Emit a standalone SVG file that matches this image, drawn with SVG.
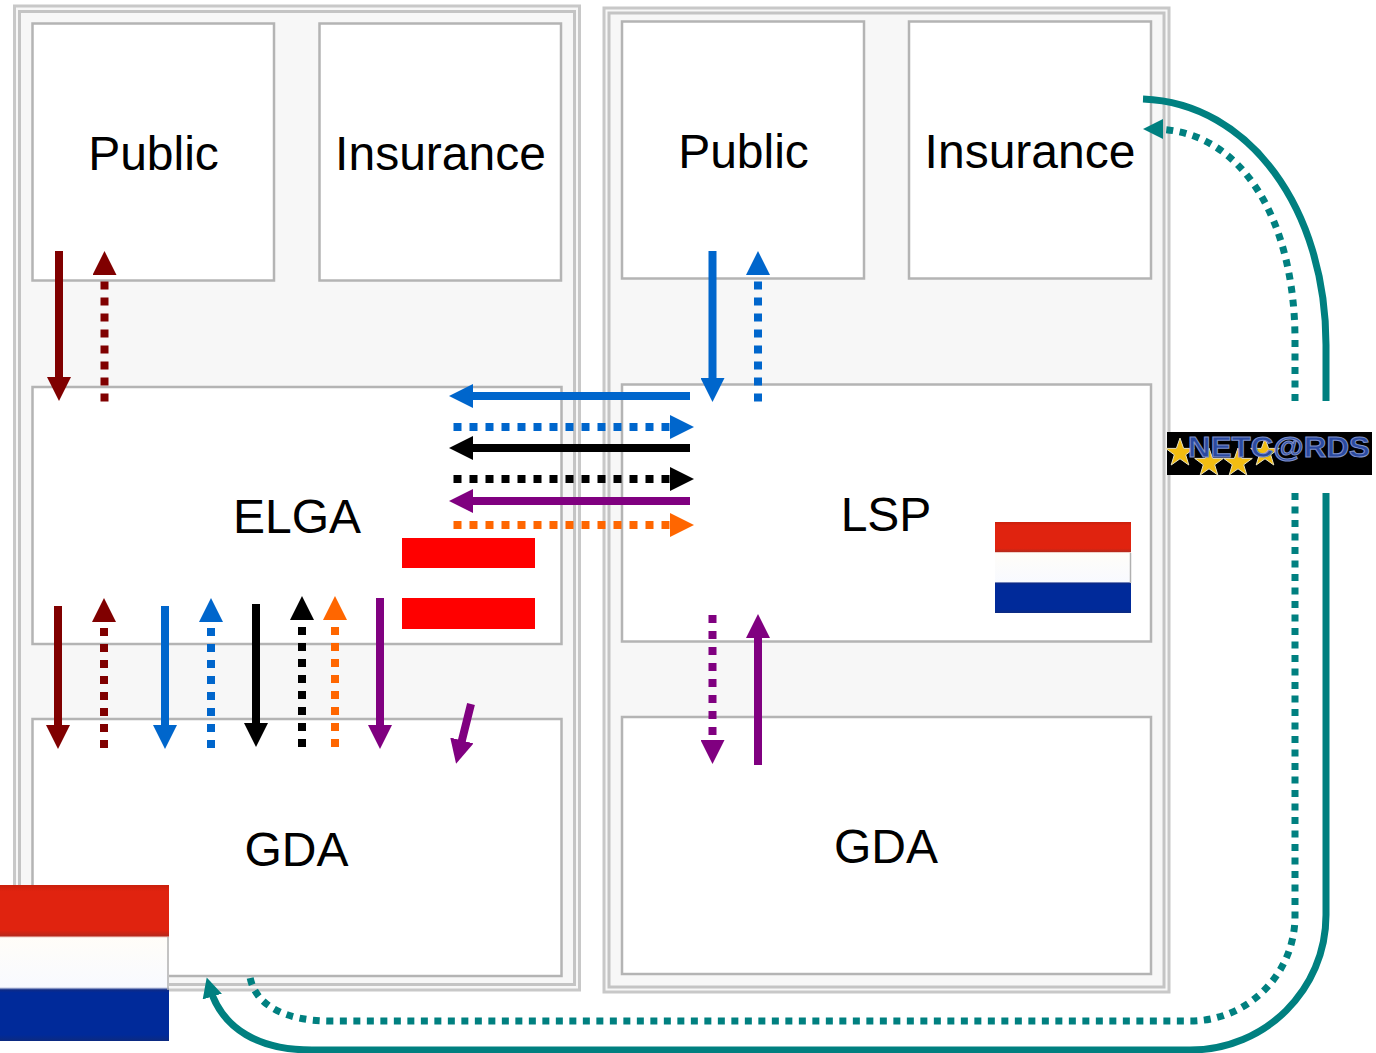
<svg xmlns="http://www.w3.org/2000/svg" width="1376" height="1053" viewBox="0 0 1376 1053">
<style>
.outer{fill:#f7f7f7;stroke:#c8c8c8;stroke-width:3}
.inner{fill:#f7f7f7;stroke:#c4c4c4;stroke-width:3}
.node{fill:#fff;stroke:#b4b4b4;stroke-width:2.5}
.lbl{font-family:"Liberation Sans",Arial,sans-serif;font-size:48px;fill:#000;text-anchor:middle}
.c{fill:none;stroke-width:8}
.d{stroke-dasharray:8 8}
.maroon{stroke:#800000}.blue{stroke:#0066cc}.black{stroke:#000}.purple{stroke:#800080}.orange{stroke:#ff6600}
.teal{stroke:#008080;stroke-width:7;fill:none}
.td{stroke-dasharray:7 6.5}
.mm{marker-end:url(#am)}.mb{marker-end:url(#ab)}.mk{marker-end:url(#ak)}.mp{marker-end:url(#ap)}.mo{marker-end:url(#ao)}.mt{marker-end:url(#at)}
.star{fill:#f2bd12;stroke:#e8e2c0;stroke-width:1}
.edge{stroke:#b0b0b0;stroke-width:1.5}
</style>
<defs>
<marker id="am" viewBox="0 0 24 24" refX="14" refY="12" markerWidth="24" markerHeight="24" markerUnits="userSpaceOnUse" orient="auto"><path d="M0,0L24,12L0,24z" fill="#800000"/></marker>
<marker id="ab" viewBox="0 0 24 24" refX="14" refY="12" markerWidth="24" markerHeight="24" markerUnits="userSpaceOnUse" orient="auto"><path d="M0,0L24,12L0,24z" fill="#0066cc"/></marker>
<marker id="ak" viewBox="0 0 24 24" refX="14" refY="12" markerWidth="24" markerHeight="24" markerUnits="userSpaceOnUse" orient="auto"><path d="M0,0L24,12L0,24z" fill="#000"/></marker>
<marker id="ap" viewBox="0 0 24 24" refX="14" refY="12" markerWidth="24" markerHeight="24" markerUnits="userSpaceOnUse" orient="auto"><path d="M0,0L24,12L0,24z" fill="#800080"/></marker>
<marker id="ao" viewBox="0 0 24 24" refX="14" refY="12" markerWidth="24" markerHeight="24" markerUnits="userSpaceOnUse" orient="auto"><path d="M0,0L24,12L0,24z" fill="#ff6600"/></marker>
<marker id="at" viewBox="0 0 20 20" refX="10" refY="10" markerWidth="20" markerHeight="20" markerUnits="userSpaceOnUse" orient="auto"><path d="M0,0L20,10L0,20z" fill="#008080"/></marker>
<linearGradient id="nl" x1="0" y1="0" x2="0" y2="1">
<stop offset="0" stop-color="#c9200c"/><stop offset=".04" stop-color="#e0230f"/><stop offset=".29" stop-color="#e0230f"/><stop offset=".325" stop-color="#b9281a"/><stop offset=".338" stop-color="#fffdf8"/><stop offset=".655" stop-color="#f8faff"/><stop offset=".672" stop-color="#0e2a86"/><stop offset=".69" stop-color="#002a9a"/><stop offset=".96" stop-color="#002a9a"/><stop offset="1" stop-color="#0c2a80"/>
</linearGradient>
<polygon id="s" class="star" points="0,-15 3.6,-4.6 14.3,-4.6 5.7,1.8 8.8,12 0,5.8 -8.8,12 -5.7,1.8 -14.3,-4.6 -3.6,-4.6"/>
</defs>

<g id="panel-left">
<rect class="outer" x="14.5" y="6" width="565" height="984"/>
<rect class="inner" x="19.5" y="11.5" width="555" height="973"/>
</g>
<g id="panel-right">
<rect class="outer" x="604" y="8" width="565" height="984"/>
<rect class="inner" x="609" y="13" width="555" height="974"/>
</g>

<g id="node-public-left"><rect class="node" x="32.5" y="23.5" width="241.500" height="257"/><text class="lbl" x="153.500" y="170">Public</text></g>
<g id="node-insurance-left"><rect class="node" x="319.500" y="23.500" width="241.500" height="257"/><text class="lbl" x="440.500" y="170">Insurance</text></g>
<g id="node-elga"><rect class="node" x="32.5" y="387" width="529" height="257"/><text class="lbl" x="297" y="533">ELGA</text></g>
<g id="node-gda-left"><rect class="node" x="32.5" y="719" width="529" height="257"/><text class="lbl" x="296.500" y="866">GDA</text></g>
<g id="node-public-right"><rect class="node" x="622" y="21.500" width="242" height="257"/><text class="lbl" x="743.500" y="168">Public</text></g>
<g id="node-insurance-right"><rect class="node" x="909" y="21.500" width="242" height="257"/><text class="lbl" x="1030" y="168">Insurance</text></g>
<g id="node-lsp"><rect class="node" x="622" y="384.500" width="529" height="257"/><text class="lbl" x="886" y="531">LSP</text></g>
<g id="node-gda-right"><rect class="node" x="622" y="717" width="529" height="257"/><text class="lbl" x="886" y="863">GDA</text></g>

<g id="connectors">
<path class="c maroon mm" d="M59,251V391"/>
<path class="c d maroon mm" d="M104.500,401.500V261"/>
<path class="c blue mb" d="M712.500,251V392"/>
<path class="c d blue mb" d="M758,401.500V261"/>
<path class="c blue mb" d="M690,396H459"/>
<path class="c d blue mb" d="M453.500,427H684"/>
<path class="c black mk" d="M690,448H459"/>
<path class="c d black mk" d="M453.500,479H684"/>
<path class="c purple mp" d="M690,501H459"/>
<path class="c d orange mo" d="M453.500,525H684"/>
<path class="c maroon mm" d="M58,606V739"/>
<path class="c d maroon mm" d="M104,748V608"/>
<path class="c blue mb" d="M165,606V739"/>
<path class="c d blue mb" d="M211,748V608"/>
<path class="c black mk" d="M256,604V737"/>
<path class="c d black mk" d="M302,747V606"/>
<path class="c d orange mo" d="M335,747V606"/>
<path class="c purple mp" d="M380,598V739"/>
<path class="c purple mp" d="M471,704L458.500,754"/>
<path class="c d purple mp" d="M712.500,615V754"/>
<path class="c purple mp" d="M758,765V624"/>
<path class="teal" d="M1143,99C1250,103 1326,210 1326,345V401"/>
<path class="teal mt" d="M1326,493V915C1326,990 1265,1050 1190,1050H312C260,1050 222,1030 209.500,987"/>
<path class="teal td mt" d="M1295,401V340C1295,225 1245,129 1153,129"/>
<path class="teal td" d="M1295,493V916C1295,974 1248,1021 1190,1021H330C285,1021 255,1005 250,977"/>
</g>

<g id="flag-austria">
<rect x="402" y="538" width="133" height="30" fill="#ff0000"/>
<rect x="402" y="598" width="133" height="31" fill="#ff0000"/>
</g>
<g id="flag-nl-small"><rect x="995" y="522" width="136" height="91" fill="url(#nl)"/><path class="edge" d="M1130.500,553V583"/></g>
<g id="flag-nl-large"><rect x="0" y="885" width="169" height="156" fill="url(#nl)"/><path class="edge" d="M168,937V990"/></g>
<g id="netcards">
<rect x="1167" y="432" width="205" height="43" fill="#000"/>
<use href="#s" x="1180" y="453"/>
<use href="#s" x="1209" y="463"/>
<use href="#s" x="1238" y="463"/>
<use href="#s" x="1265" y="453"/>
<text x="1188" y="457" font-family="'Liberation Sans',Arial,sans-serif" font-weight="bold" font-size="29" textLength="182" lengthAdjust="spacingAndGlyphs" fill="#2b4aa0" stroke="#7f90c8" stroke-width="1">NETC@RDS</text>
</g>
</svg>
